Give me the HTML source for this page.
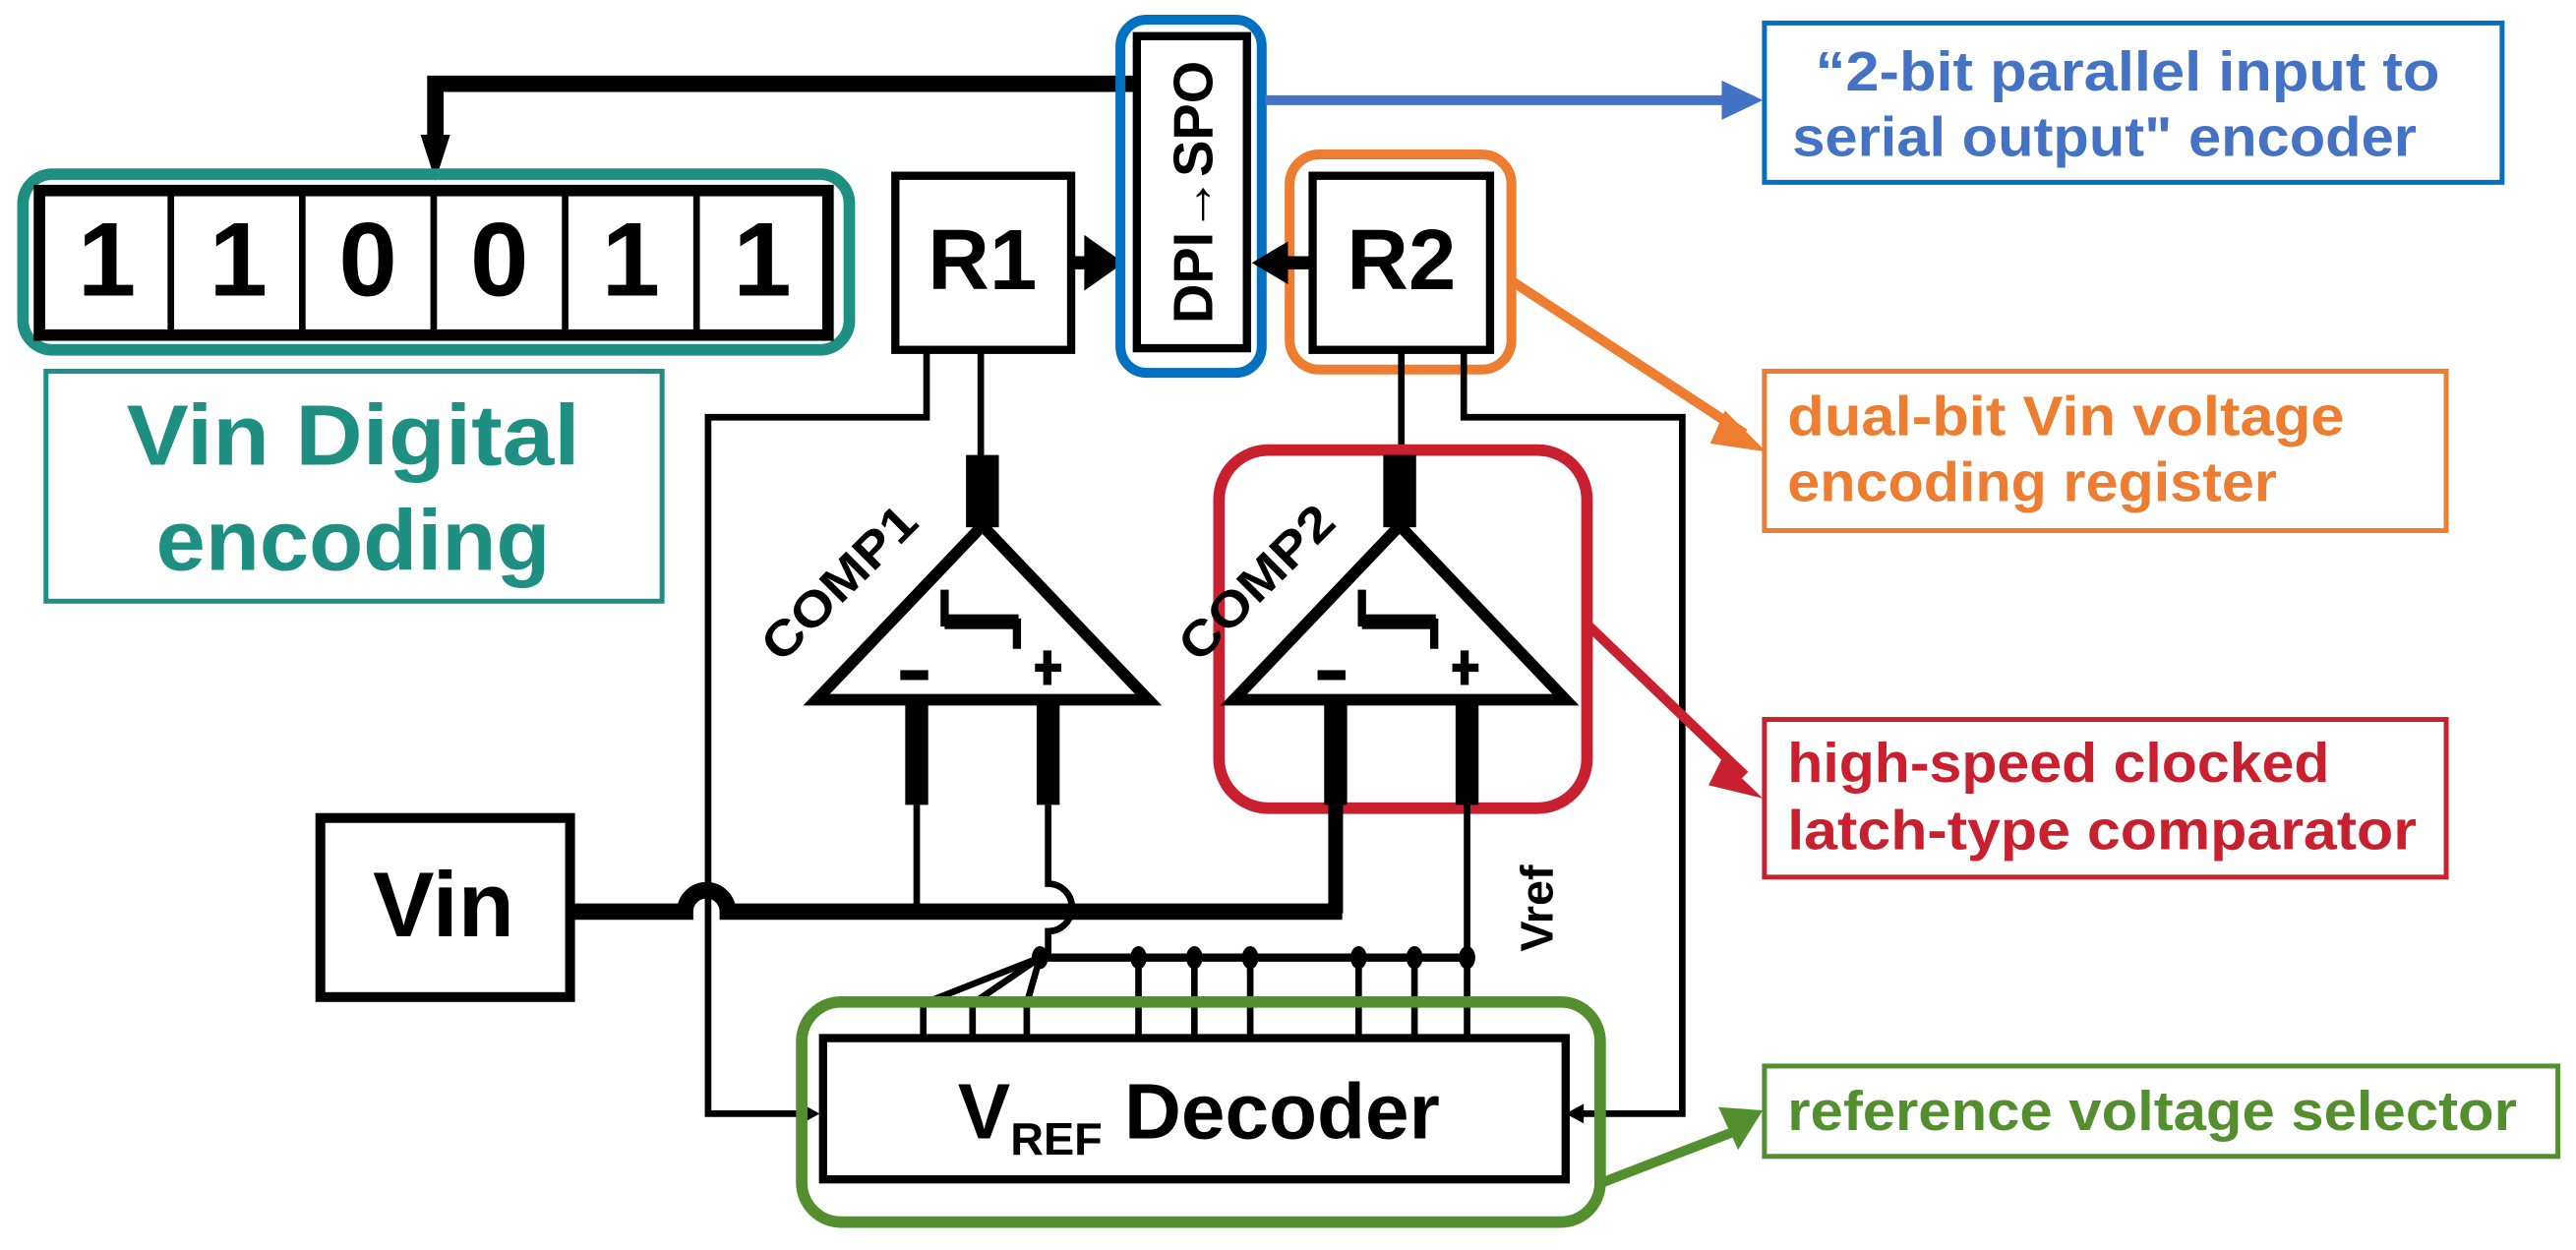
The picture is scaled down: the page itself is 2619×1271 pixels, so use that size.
<!DOCTYPE html>
<html><head><meta charset="utf-8"><style>
html,body{margin:0;padding:0;background:#fff;}
svg{display:block;}
text{font-family:"Liberation Sans",sans-serif;font-weight:bold;}
</style></head><body>
<svg width="2619" height="1271" viewBox="0 0 1568 761" preserveAspectRatio="none" xmlns="http://www.w3.org/2000/svg">
<rect width="1568" height="761" fill="#fff"/>

<!-- feedback arrow -->
<path d="M690 51 H265 V88" fill="none" stroke="#000" stroke-width="10"/>
<polygon points="256,82 274,82 265,110" fill="#000"/>

<!-- teal rounded box + bits -->
<rect x="14" y="106" width="503" height="107" rx="18" fill="none" stroke="#1f8f82" stroke-width="7"/>
<rect x="24" y="116" width="480" height="88" fill="#fff" stroke="#000" stroke-width="7"/>
<g stroke="#000" stroke-width="4">
<line x1="104" y1="116" x2="104" y2="204"/><line x1="184" y1="116" x2="184" y2="204"/>
<line x1="264" y1="116" x2="264" y2="204"/><line x1="344" y1="116" x2="344" y2="204"/>
<line x1="424" y1="116" x2="424" y2="204"/>
</g>
<g font-size="64" text-anchor="middle" fill="#000">
<text x="65" y="180">1</text><text x="145" y="180">1</text><text x="224" y="180">0</text>
<text x="304" y="180">0</text><text x="384" y="180">1</text><text x="464" y="180">1</text>
</g>

<!-- teal label box -->
<rect x="28" y="226" width="375" height="140" fill="#fff" stroke="#1f8f82" stroke-width="3"/>
<g fill="#1f8f82" font-size="52">
<text x="77" y="283" textLength="276" lengthAdjust="spacingAndGlyphs">Vin Digital</text>
<text x="95" y="347" textLength="240" lengthAdjust="spacingAndGlyphs">encoding</text>
</g>

<!-- R1 -->
<rect x="545" y="107" width="107" height="106" fill="#fff" stroke="#000" stroke-width="5"/>
<text x="598" y="176" font-size="52" text-anchor="middle">R1</text>
<line x1="652" y1="160" x2="665" y2="160" stroke="#000" stroke-width="8"/>
<polygon points="660,143 684,160 660,177" fill="#000"/>

<!-- DPI->SPO -->
<rect x="682" y="12" width="86" height="215" rx="16" fill="none" stroke="#0070c0" stroke-width="6"/>
<rect x="692" y="22" width="67" height="190" fill="#fff" stroke="#000" stroke-width="5"/>
<text transform="translate(738,117) rotate(-90)" font-size="34" text-anchor="middle" textLength="160" lengthAdjust="spacingAndGlyphs">DPI→SPO</text>

<!-- R2 -->
<rect x="785" y="94" width="135" height="131" rx="18" fill="none" stroke="#ed7d31" stroke-width="6"/>
<rect x="799" y="107" width="108" height="106" fill="#fff" stroke="#000" stroke-width="5"/>
<text x="853" y="176" font-size="52" text-anchor="middle">R2</text>
<line x1="799" y1="160" x2="778" y2="160" stroke="#000" stroke-width="8"/>
<polygon points="784,147 762,160 784,173" fill="#000"/>

<!-- blue callout -->
<line x1="770" y1="61" x2="1052" y2="61" stroke="#4472c4" stroke-width="6"/>
<polygon points="1048,49 1073,61 1048,73" fill="#4472c4"/>
<rect x="1074" y="14" width="449" height="97" fill="#fff" stroke="#0070c0" stroke-width="3"/>
<g fill="#4472c4" font-size="34">
<text x="1105" y="55" textLength="380" lengthAdjust="spacingAndGlyphs">“2-bit parallel input to</text>
<text x="1091" y="95" textLength="380" lengthAdjust="spacingAndGlyphs">serial output" encoder</text>
</g>

<!-- orange callout -->
<line x1="920" y1="171" x2="1062" y2="264" stroke="#ed7d31" stroke-width="6"/>
<polygon points="1050,250 1075,275 1041,270" fill="#ed7d31"/>
<rect x="1074" y="226" width="415" height="97" fill="#fff" stroke="#ed7d31" stroke-width="3"/>
<g fill="#ed7d31" font-size="34">
<text x="1088" y="265" textLength="339" lengthAdjust="spacingAndGlyphs">dual-bit Vin voltage</text>
<text x="1088" y="305" textLength="298" lengthAdjust="spacingAndGlyphs">encoding register</text>
</g>

<!-- R1/R2 wires -->
<g fill="none" stroke="#000" stroke-width="4">
<path d="M564 213 V254 H431 V678 H490"/>
<path d="M597 213 V280"/>
<path d="M891 213 V254 H1024 V678 H962"/>
<path d="M853 213 V280"/>
</g>
<polygon points="488,672 499,678 488,684" fill="#000"/>
<polygon points="964,672 953,678 964,684" fill="#000"/>

<!-- COMP1 -->
<rect x="588" y="277" width="20" height="44" fill="#000"/>
<polygon points="598,320 497,426 699,426" fill="#fff" stroke="#000" stroke-width="7" stroke-linejoin="miter"/>
<path d="M575 359 V379 H619 V395" fill="none" stroke="#000" stroke-width="5"/>
<rect x="575" y="374" width="45" height="9" fill="#000"/>
<rect x="548" y="408" width="17" height="6" fill="#000"/>
<rect x="630" y="404" width="16" height="5" fill="#000"/><rect x="635" y="396" width="5" height="21" fill="#000"/>
<text transform="translate(518,362) rotate(-45)" font-size="30" text-anchor="middle" textLength="120" lengthAdjust="spacingAndGlyphs">COMP1</text>
<rect x="551" y="426" width="14" height="64" fill="#000"/>
<rect x="631" y="426" width="14" height="64" fill="#000"/>
<line x1="558" y1="490" x2="558" y2="556" stroke="#000" stroke-width="4"/>
<path d="M638 490 V538 A14 14 0 0 1 638 567 V583" fill="none" stroke="#000" stroke-width="4"/>

<!-- COMP2 -->
<rect x="742" y="274" width="224" height="218" rx="30" fill="none" stroke="#c8202f" stroke-width="7"/>
<rect x="842" y="277" width="20" height="44" fill="#000"/>
<polygon points="852,320 751,426 953,426" fill="#fff" stroke="#000" stroke-width="7" stroke-linejoin="miter"/>
<path d="M829 359 V379 H873 V395" fill="none" stroke="#000" stroke-width="5"/>
<rect x="829" y="374" width="45" height="9" fill="#000"/>
<rect x="802" y="408" width="17" height="6" fill="#000"/>
<rect x="884" y="404" width="16" height="5" fill="#000"/><rect x="889" y="396" width="5" height="21" fill="#000"/>
<text transform="translate(772,362) rotate(-45)" font-size="30" text-anchor="middle" textLength="120" lengthAdjust="spacingAndGlyphs">COMP2</text>
<rect x="806" y="426" width="14" height="64" fill="#000"/>
<rect x="886" y="426" width="14" height="64" fill="#000"/>
<line x1="813" y1="490" x2="813" y2="556" stroke="#000" stroke-width="9"/>
<line x1="893" y1="490" x2="893" y2="583" stroke="#000" stroke-width="4"/>

<!-- red callout -->
<line x1="966" y1="380" x2="1062" y2="472" stroke="#c8202f" stroke-width="6"/>
<polygon points="1048,462 1073,486 1040,478" fill="#c8202f"/>
<rect x="1074" y="438" width="415" height="96" fill="#fff" stroke="#c8202f" stroke-width="3"/>
<g fill="#c8202f" font-size="34">
<text x="1088" y="476" textLength="330" lengthAdjust="spacingAndGlyphs">high-speed clocked</text>
<text x="1088" y="517" textLength="383" lengthAdjust="spacingAndGlyphs">latch-type comparator</text>
</g>

<!-- Vin -->
<rect x="195" y="498" width="152" height="109" fill="#fff" stroke="#000" stroke-width="6"/>
<text x="270" y="570" font-size="56" text-anchor="middle">Vin</text>
<path d="M347 555 H417 A13 13 0 0 1 443 555 H817" fill="none" stroke="#000" stroke-width="10"/>

<!-- Vref label -->
<text transform="translate(945,553) rotate(-90)" font-size="28" text-anchor="middle">Vref</text>

<!-- dot bus -->
<line x1="632" y1="583" x2="893" y2="583" stroke="#000" stroke-width="5"/>
<g fill="#000">
<ellipse cx="633" cy="583" rx="5" ry="7"/><ellipse cx="693" cy="583" rx="5" ry="7"/>
<ellipse cx="727" cy="583" rx="5" ry="7"/><ellipse cx="761" cy="583" rx="5" ry="7"/>
<ellipse cx="827" cy="583" rx="5" ry="7"/><ellipse cx="861" cy="583" rx="5" ry="7"/>
<ellipse cx="893" cy="583" rx="5" ry="7"/>
</g>
<g fill="none" stroke="#000" stroke-width="4">
<path d="M633 583 L562 611 V632"/><path d="M633 583 L592 611 V632"/><path d="M633 583 L625 611 V632"/>
<path d="M693 583 V632"/><path d="M727 583 V632"/><path d="M761 583 V632"/>
<path d="M827 583 V632"/><path d="M861 583 V632"/><path d="M893 583 V632"/>
</g>

<!-- decoder -->
<rect x="488" y="610" width="486" height="134" rx="24" fill="none" stroke="#548f2f" stroke-width="7"/>
<rect x="501" y="632" width="452" height="86" fill="#fff" stroke="#000" stroke-width="5"/>
<text x="583" y="693" font-size="48">V<tspan font-size="28" dy="10">REF</tspan><tspan dy="-10"> Decoder</tspan></text>

<!-- green callout -->
<line x1="975" y1="720" x2="1058" y2="688" stroke="#548f2f" stroke-width="6"/>
<polygon points="1046,674 1073,676 1058,700" fill="#548f2f"/>
<rect x="1074" y="649" width="483" height="55" fill="#fff" stroke="#548f2f" stroke-width="3"/>
<text x="1088" y="688" fill="#548f2f" font-size="34" textLength="444" lengthAdjust="spacingAndGlyphs">reference voltage selector</text>
</svg>
</body></html>
